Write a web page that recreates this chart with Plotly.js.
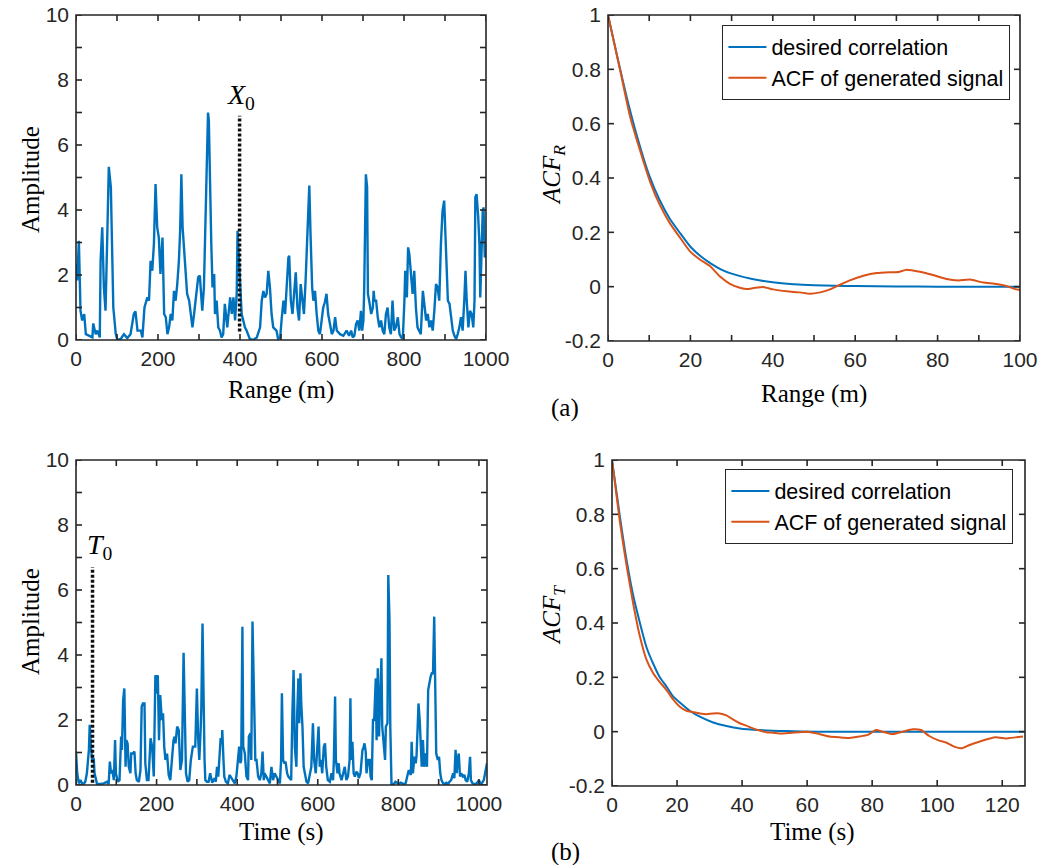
<!DOCTYPE html>
<html>
<head>
<meta charset="utf-8">
<script src="https://cdn.plot.ly/plotly-3.0.1.min.js"></script>
<style>html,body{margin:0;padding:0;background:#fff;}#chart{width:1047px;height:865px;}</style>
</head>
<body>
<div id="chart"></div>
<script>
// ---------- (a) range-domain signal ----------
const rangeX = [0,3,7,11,15,20,24,32,40,42,48,52,58,60,64,68,72,76,80,85,87,91,97,101,109,117,125,133,141,145,150,158,162,167,174,178,182,186,190,194,198,202,206,211,215,219,223,227,231,235,239,243,247,251,254,257,260,263,267,271,276,280,284,288,292,298,302,308,312,318,322,324,327,330,333,337,339,343,347,351,355,359,363,366,369,372,376,380,384,388,392,394,397,400,404,408,412,416,420,424,432,441,449,453,457,461,465,469,473,477,481,489,493,498,502,506,510,514,518,520,524,528,532,536,540,544,548,552,556,560,564,567,569,572,576,579,583,587,591,595,599,603,607,611,615,620,624,628,632,636,644,652,660,666,671,675,679,683,687,691,695,698,701,703,706,707,710,712,715,720,724,726,728,732,736,740,744,748,752,756,760,764,768,772,776,780,785,789,793,797,801,803,807,810,813,817,821,825,829,833,837,841,846,850,854,858,862,866,870,874,878,882,886,890,894,898,902,907,911,915,919,923,927,931,935,939,943,947,950,953,957,961,965,969,972,974,977,981,984,986,989,992,994,997,1000];
const rangeAmp = [2.34,1.83,3.05,0.90,0.60,0.80,0.18,0.12,0.08,0.51,0.18,0.29,0.08,2.44,3.47,1.62,0.90,3.05,5.33,4.70,3.47,1.00,0.18,0.00,0.03,0.18,0.06,0.18,0.80,0.88,0.29,0.29,0.08,1.00,1.31,1.21,2.44,2.13,2.95,4.80,3.47,3.15,2.03,3.15,0.80,0.70,0.18,0.39,0.80,0.60,1.51,1.21,1.72,2.44,3.36,5.10,3.47,2.95,2.03,1.42,1.21,0.80,0.39,0.80,1.21,1.93,1.98,0.90,1.62,4.80,7.00,6.75,4.18,2.95,1.62,2.03,0.80,1.21,0.39,0.29,0.08,0.18,1.11,0.60,0.39,0.80,1.31,0.80,1.31,0.60,1.42,3.36,2.54,2.13,0.80,0.60,0.39,0.29,0.18,0.03,0.00,0.08,0.39,1.21,1.51,1.31,1.42,2.13,1.62,0.80,0.39,0.29,0.03,0.08,0.70,1.21,0.80,1.83,2.54,2.59,1.21,0.80,1.42,2.08,1.00,0.60,1.72,1.21,0.80,1.83,2.95,4.29,4.75,3.26,1.62,1.21,1.51,0.80,0.29,0.18,0.70,1.00,1.16,1.42,0.80,0.39,0.18,0.29,0.70,0.29,0.18,0.13,0.29,0.13,0.29,0.08,0.13,0.49,0.60,0.29,0.90,0.29,0.60,1.62,4.29,5.10,4.70,1.42,1.21,0.80,1.00,1.51,1.21,1.21,0.70,0.39,0.60,0.29,0.18,0.80,1.00,0.39,0.18,1.21,0.29,0.39,0.70,0.18,0.08,0.03,1.21,2.13,1.31,2.85,2.65,1.93,1.42,2.13,1.00,0.39,0.29,0.18,1.51,1.00,0.60,0.80,0.39,0.60,0.29,0.90,1.72,1.62,1.21,2.95,3.97,4.29,3.05,1.21,1.11,0.70,0.29,0.13,0.03,0.18,0.39,0.70,0.29,1.21,2.13,1.21,0.39,0.90,0.80,0.39,1.21,4.39,4.49,3.79,2.95,1.31,2.75,3.97,4.08,2.54,2.65];
const markerX0 = [399, 399];
const markerX0Span = [0.26, 6.9];

// ---------- (b) time-domain signal ----------
const timeX = [0,3,7,11,15,19,23,27,32,34,37,40,44,46,50,52,61,69,77,81,84,87,90,94,97,99,104,108,112,114,117,120,123,125,128,131,135,137,141,145,148,151,156,160,163,166,170,172,176,180,185,189,193,197,199,203,206,209,213,216,219,222,226,230,234,238,242,245,247,251,255,259,263,267,270,273,277,281,285,290,296,300,303,306,309,311,314,316,319,321,325,329,333,338,342,344,347,350,353,357,359,362,363,366,368,372,377,381,386,390,394,398,402,405,408,410,413,415,419,423,427,429,433,435,438,440,443,445,448,452,456,460,463,466,468,472,477,481,485,489,493,497,501,506,509,511,514,517,520,524,527,530,534,537,540,543,547,549,552,554,557,559,562,565,568,572,576,580,584,588,591,595,598,602,605,608,611,615,618,621,625,630,634,638,640,643,645,649,652,654,659,663,667,671,675,679,681,683,686,689,692,696,699,702,706,711,713,716,719,721,725,729,731,734,737,740,744,746,749,752,754,758,760,764,767,769,773,775,778,780,783,789,793,802,806,814,818,822,826,831,833,836,840,843,845,848,850,853,855,858,861,864,868,871,874,878,880,883,886,889,892,894,898,901,904,907,911,915,919,923,927,931,936,939,942,945,947,950,953,956,960,964,967,971,975,978,980,984,988,992,996,1000,1004,1008,1012,1017,1020];
const timeAmp = [1.03,0.36,0.05,0.15,0.05,0.03,0.10,0.36,1.08,1.85,1.18,0.77,0.82,0.36,0.15,0.03,0.03,0.05,0.10,0.03,0.72,0.36,0.46,0.15,1.38,0.36,0.10,0.15,1.49,1.08,2.62,2.97,0.56,1.38,1.28,0.56,0.36,0.97,0.97,1.03,0.36,0.15,0.10,0.46,2.41,2.51,2.51,0.67,0.15,0.15,1.44,1.18,0.26,3.38,2.82,3.38,1.38,2.77,2.00,2.21,1.18,0.77,0.97,0.31,0.15,0.92,1.38,1.49,1.28,1.80,1.69,0.46,0.77,4.07,1.59,0.36,0.10,0.15,0.77,1.18,1.18,2.97,1.49,0.77,1.59,2.36,4.97,2.82,0.77,0.15,0.10,0.10,0.36,0.07,0.15,0.21,0.10,0.56,0.26,1.18,1.44,1.28,1.69,0.77,0.26,0.10,0.05,0.31,0.21,0.15,0.05,0.26,0.77,1.18,0.67,0.77,4.87,1.18,0.97,0.26,0.15,1.49,1.59,0.77,5.03,4.05,2.51,0.77,0.77,0.26,0.15,0.36,1.03,0.15,0.36,0.26,0.10,0.05,0.56,0.15,0.36,0.26,0.15,0.05,0.77,2.82,0.77,0.67,0.72,0.36,0.26,0.21,0.15,2.21,3.54,1.18,0.56,2.21,3.28,1.90,3.44,2.51,1.80,0.56,0.36,0.10,0.05,0.26,0.56,1.90,0.77,0.36,0.97,1.80,0.56,0.77,0.36,1.18,1.28,0.56,0.15,0.10,0.36,0.15,0.77,2.72,0.77,0.36,0.67,0.36,0.15,0.36,0.56,0.15,0.26,0.77,2.67,0.77,1.33,0.36,0.26,0.41,0.36,0.21,0.36,1.08,1.13,1.28,1.03,0.36,0.77,0.77,0.26,0.15,2.00,2.00,3.28,1.38,3.59,1.49,2.62,3.90,1.80,1.18,0.77,1.80,1.90,6.46,5.08,1.80,0.03,0.03,0.10,0.03,0.07,0.03,0.05,0.26,0.46,0.31,1.33,0.36,0.87,0.67,0.87,1.80,2.51,2.00,1.38,0.56,1.38,0.56,0.97,0.56,2.92,3.23,3.33,3.44,3.44,5.18,1.38,0.97,0.77,0.87,0.36,0.15,0.05,0.03,0.07,0.03,0.10,0.15,0.36,0.21,1.08,0.36,0.77,0.97,0.26,0.36,0.26,0.31,0.15,0.10,0.36,0.87,0.15,0.05,0.03,0.03,0.07,0.15,0.03,0.07,0.15,0.56,0.67];
const markerT0 = [41, 41];
const markerT0Span = [0.07, 6.7];

// ---------- ACF along range ----------
const acfRangeLag = [0,2.5,5,7.5,10,12.5,15,17.5,20,22.5,25,27.5,30,35,40,45,50,55,60,70,80,90,100];
const acfRangeDesired = [1.0,0.83,0.67,0.53,0.41,0.32,0.25,0.197,0.147,0.112,0.085,0.063,0.048,0.028,0.016,0.009,0.005,0.003,0.002,0.001,0,0,0];
const acfRangeGenLag = [0,2.9,5.3,7.8,10.2,12.6,15,17.5,19.9,22.3,24.8,27.2,29.6,32,33.7,35.7,37.7,40.1,43.4,46.6,49,51.5,53.9,56.3,58.7,62,65.2,68.4,70.5,72.5,75.7,78.9,82.2,85,87.9,91.1,94.3,96.8,98.8,100];
const acfRangeGen = [1.0,0.80,0.63,0.50,0.387,0.30,0.234,0.18,0.13,0.10,0.075,0.037,0.010,-0.004,-0.009,-0.004,-0.001,-0.010,-0.017,-0.021,-0.026,-0.021,-0.010,0.007,0.023,0.040,0.050,0.053,0.054,0.0625,0.055,0.043,0.028,0.023,0.026,0.015,0.010,0.002,-0.009,-0.012];

// ---------- ACF along time ----------
const acfTimeLag = [0,2.45,4.5,6.54,8.59,10.63,12.68,14.7,16.77,18.8,20.86,23.9,27,31.1,35.2,39.3,45.4,53.6,62.8,80,100,127];
const acfTimeDesired = [1.0,0.79,0.63,0.50,0.40,0.31,0.25,0.20,0.166,0.13,0.107,0.077,0.055,0.034,0.021,0.012,0.006,0.002,0,0,0,0];
const acfTimeGenLag = [0,2.45,4.5,6.54,8.59,10.63,12.68,14.2,16.77,18.8,20.86,22.9,24.95,27,29.04,31.08,33.13,35.17,37.2,39.26,41.3,43.35,45.4,47.44,49.5,52.04,54.6,57.67,60.2,62.78,66.87,69.94,73,76.07,78.63,81.19,83.23,86.3,89.37,92.43,95,97.55,100.6,102.7,105.2,107.6,109.8,112.9,118,121.1,124.1,126.4];
const acfTimeGen = [1.0,0.77,0.61,0.47,0.35,0.264,0.215,0.19,0.153,0.119,0.092,0.077,0.072,0.067,0.064,0.067,0.067,0.06,0.045,0.031,0.022,0.012,0.004,-0.002,-0.004,-0.007,-0.005,-0.002,0,-0.006,-0.018,-0.021,-0.023,-0.018,-0.012,0.006,0,-0.009,0,0.009,0.006,-0.016,-0.033,-0.040,-0.055,-0.061,-0.050,-0.037,-0.021,-0.025,-0.021,-0.018];

// ---------- ticks and tick labels ----------
const distTicks = [0,100,200,300,400,500,600,700,800,900,1000];
const distLabels = [0,200,400,600,800,1000];
const ampTicks = [0,1,2,3,4,5,6,7,8,9,10];
const ampLabels = [0,2,4,6,8,10];
const lagRangeTicks = [0,10,20,30,40,50,60,70,80,90,100];
const lagRangeLabels = [0,20,40,60,80,100];
const lagTimeTicks = [0,20,40,60,80,100,120];
const acfTicks = [-0.2,0,0.2,0.4,0.6,0.8,1];
const acfTickText = ['-0.2','0','0.2','0.4','0.6','0.8','1'];
const seriesNames = ['desired correlation','ACF of generated signal'];

const BLUE = '#0072BD', RED = '#D95319', AX = '#262626';
const SANS = 'Liberation Sans, Arial, Helvetica, sans-serif';
const SERIF = 'Liberation Serif, Times New Roman, serif';

function ax(extra){
  return Object.assign({
    showline:false, ticks:'', showgrid:false, zeroline:false, tickmode:'array',
    tickfont:{family:SANS, size:21, color:AX}
  }, extra);
}

const traces = [
  {x:rangeX, y:rangeAmp, xaxis:'x', yaxis:'y', mode:'lines', line:{color:BLUE, width:2.4}, showlegend:false},
  {x:markerX0, y:markerX0Span, xaxis:'x', yaxis:'y', mode:'lines', line:{color:'#111', width:3.5, dash:'3px,2px'}, showlegend:false},
  {x:acfRangeLag, y:acfRangeDesired, xaxis:'x2', yaxis:'y2', mode:'lines', name:seriesNames[0], line:{color:BLUE, width:2, shape:'spline', smoothing:0.6}, legend:'legend'},
  {x:acfRangeGenLag, y:acfRangeGen, xaxis:'x2', yaxis:'y2', mode:'lines', name:seriesNames[1], line:{color:RED, width:2, shape:'spline', smoothing:0.5}, legend:'legend'},
  {x:timeX, y:timeAmp, xaxis:'x3', yaxis:'y3', mode:'lines', line:{color:BLUE, width:2.4}, showlegend:false},
  {x:markerT0, y:markerT0Span, xaxis:'x3', yaxis:'y3', mode:'lines', line:{color:'#111', width:3.5, dash:'3px,2px'}, showlegend:false},
  {x:acfTimeLag, y:acfTimeDesired, xaxis:'x4', yaxis:'y4', mode:'lines', name:seriesNames[0], line:{color:BLUE, width:2, shape:'spline', smoothing:0.6}, legend:'legend2'},
  {x:acfTimeGenLag, y:acfTimeGen, xaxis:'x4', yaxis:'y4', mode:'lines', name:seriesNames[1], line:{color:RED, width:2, shape:'spline', smoothing:0.5}, legend:'legend2'}
];

const W = 1047, H = 865;
const px = v => v / W, py = v => 1 - v / H;

// subplot boxes in pixels: [left, right, top, bottom]
const boxes = {
  '':  [76, 486, 15, 340],
  '2': [608, 1020, 15, 341],
  '3': [76, 487, 460, 785],
  '4': [612, 1025, 460, 786]
};

// frame + inside ticks on all four sides, drawn as shapes on each axis' own scale
const TICKLEN = 6;
const shapes = [];
function frame(id, xTicks, yTicks){
  const b = boxes[id];
  const xr = 'x' + id, yr = 'y' + id;
  const fx = TICKLEN / (b[1] - b[0]), fy = TICKLEN / (b[3] - b[2]);
  const ln = {color:AX, width:1.6};
  shapes.push({type:'rect', xref:xr + ' domain', yref:yr + ' domain', x0:0, x1:1, y0:0, y1:1, line:ln, fillcolor:'rgba(0,0,0,0)', layer:'above'});
  xTicks.forEach(v => {
    shapes.push({type:'line', xref:xr, yref:yr + ' domain', x0:v, x1:v, y0:0, y1:fy, line:ln, layer:'above'});
    shapes.push({type:'line', xref:xr, yref:yr + ' domain', x0:v, x1:v, y0:1, y1:1 - fy, line:ln, layer:'above'});
  });
  yTicks.forEach(v => {
    shapes.push({type:'line', xref:xr + ' domain', yref:yr, x0:0, x1:fx, y0:v, y1:v, line:ln, layer:'above'});
    shapes.push({type:'line', xref:xr + ' domain', yref:yr, x0:1, x1:1 - fx, y0:v, y1:v, line:ln, layer:'above'});
  });
}
frame('', distTicks, ampTicks);
frame('2', lagRangeTicks, acfTicks);
frame('3', distTicks, ampTicks);
frame('4', lagTimeTicks, acfTicks);

const titleFont = {family:SERIF, size:25, color:'#000'};
function lbl(x, y, text, extra){
  return Object.assign({xref:'paper', yref:'paper', x:px(x), y:py(y), text:text, showarrow:false,
    xanchor:'center', yanchor:'middle', font:titleFont}, extra || {});
}
const annotations = [
  {xref:'x', yref:'y', x:403, y:7.5, xanchor:'center', yanchor:'middle', text:'<i>X</i><sub>0</sub>', showarrow:false, font:{family:SERIF, size:28, color:'#000'}},
  {xref:'x3', yref:'y3', x:59, y:7.33, xanchor:'center', yanchor:'middle', text:'<i>T</i><sub>0</sub>', showarrow:false, font:{family:SERIF, size:28, color:'#000'}},
  lbl(281, 390, 'Range (m)'),
  lbl(814, 394, 'Range (m)'),
  lbl(281, 832, 'Time (s)'),
  lbl(812, 832, 'Time (s)'),
  lbl(30, 180, 'Amplitude', {textangle:-90}),
  lbl(30, 622, 'Amplitude', {textangle:-90}),
  lbl(553, 175, '<i>ACF</i><sub><i>R</i></sub>', {textangle:-90}),
  lbl(553, 615, '<i>ACF</i><sub><i>T</i></sub>', {textangle:-90}),
  lbl(565, 408, '(a)'),
  lbl(565, 852, '(b)')
];

const legendStyle = {
  xanchor:'right', yanchor:'top', bgcolor:'#fff', bordercolor:AX, borderwidth:1.4,
  font:{family:SANS, size:21.5, color:'#000'}, itemwidth:38, tracegroupgap:0
};

function dom(id){
  const b = boxes[id];
  return {x:[px(b[0]), px(b[1])], y:[py(b[3]), py(b[2])]};
}
const XSO = 4, YSO = 6;

const layout = {
  width:W, height:H, margin:{l:0, r:0, t:0, b:0},
  paper_bgcolor:'#fff', plot_bgcolor:'#fff', showlegend:true,
  xaxis: ax({domain:dom('').x, anchor:'y', range:[0,1000], tickvals:distLabels, ticklabelstandoff:XSO}),
  yaxis: ax({domain:dom('').y, anchor:'x', range:[0,10], tickvals:ampLabels, ticklabelstandoff:YSO}),
  xaxis2: ax({domain:dom('2').x, anchor:'y2', range:[0,100], tickvals:lagRangeLabels, ticklabelstandoff:XSO}),
  yaxis2: ax({domain:dom('2').y, anchor:'x2', range:[-0.2,1], tickvals:acfTicks, ticktext:acfTickText, ticklabelstandoff:YSO}),
  xaxis3: ax({domain:dom('3').x, anchor:'y3', range:[0,1020], tickvals:distLabels, ticklabelstandoff:XSO}),
  yaxis3: ax({domain:dom('3').y, anchor:'x3', range:[0,10], tickvals:ampLabels, ticklabelstandoff:YSO}),
  xaxis4: ax({domain:dom('4').x, anchor:'y4', range:[0,127], tickvals:lagTimeTicks, ticklabelstandoff:XSO}),
  yaxis4: ax({domain:dom('4').y, anchor:'x4', range:[-0.2,1], tickvals:acfTicks, ticktext:acfTickText, ticklabelstandoff:YSO}),
  legend: Object.assign({x:px(1010), y:py(25)}, legendStyle),
  legend2: Object.assign({x:px(1013), y:py(469)}, legendStyle),
  shapes: shapes,
  annotations: annotations
};

Plotly.newPlot('chart', traces, layout, {displayModeBar:false});
</script>
</body>
</html>
